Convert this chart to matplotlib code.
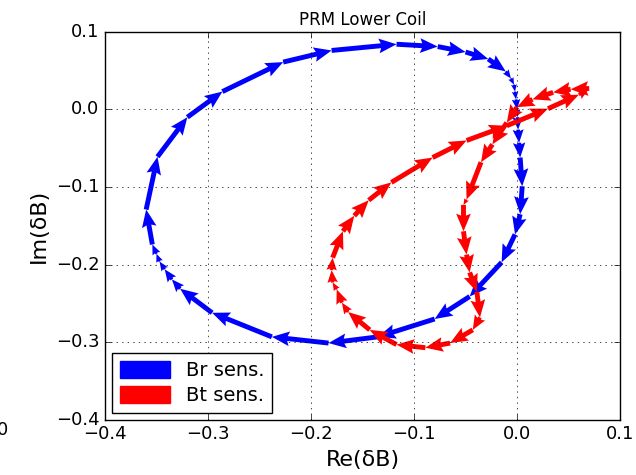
import numpy as np
import matplotlib
matplotlib.use('Agg')
import matplotlib.pyplot as plt
from matplotlib.patches import Patch

blue_re = [0.003, 0.005, 0.003, -0.002, -0.015, -0.046, -0.080, -0.135, -0.183,
           -0.238, -0.296, -0.327, -0.335, -0.342, -0.347, -0.350, -0.354,
           -0.360, -0.349, -0.320, -0.286, -0.227, -0.180, -0.117, -0.077,
           -0.050, -0.028, -0.011, -0.006, -0.003, -0.002, -0.001, 0.000,
           0.0005, 0.001, 0.002, 0.003]
blue_im = [-0.062, -0.099, -0.135, -0.161, -0.197, -0.241, -0.270, -0.293,
           -0.301, -0.293, -0.262, -0.231, -0.219, -0.206, -0.196, -0.186,
           -0.174, -0.129, -0.061, -0.010, 0.023, 0.061, 0.076, 0.084, 0.081,
           0.074, 0.065, 0.049, 0.040, 0.032, 0.023, 0.013, 0.000, -0.010,
           -0.026, -0.043, -0.062]

# Bt sensor response
red_re = [-0.082, -0.049, -0.010, 0.030, 0.060, 0.070, 0.052, 0.035, 0.015,
          0.000, -0.010, -0.024, -0.035, -0.049, -0.052, -0.052, -0.049,
          -0.046, -0.039, -0.036, -0.043, -0.065, -0.089, -0.117, -0.143,
          -0.164, -0.170, -0.175, -0.179, -0.180, -0.179, -0.169, -0.158,
          -0.144, -0.122, -0.082]
red_im = [-0.062, -0.040, -0.021, 0.001, 0.019, 0.027, 0.026, 0.022, 0.013,
          0.003, -0.017, -0.045, -0.068, -0.116, -0.123, -0.157, -0.187,
          -0.210, -0.235, -0.268, -0.284, -0.301, -0.307, -0.303, -0.284,
          -0.261, -0.249, -0.232, -0.223, -0.207, -0.191, -0.157, -0.137,
          -0.117, -0.094, -0.062]

labels = ['Br sens.', 'Bt sens.']


def draw_arrows(ax, re, im, color):
    re = np.array(re)
    im = np.array(im)
    ax.quiver(re[:-1], im[:-1], np.diff(re), np.diff(im),
              angles='xy', scale_units='xy', scale=1, color=color,
              width=0.0095, headwidth=3, headlength=3.6, headaxislength=3.2)


plt.style.use('classic')
fig = plt.figure(figsize=(6.36, 4.75), dpi=100, facecolor='white')
ax = fig.add_axes([0.165, 0.116, 0.81, 0.817])

draw_arrows(ax, blue_re, blue_im, '#0000ff')
draw_arrows(ax, red_re, red_im, '#ff0000')

ax.set_xlim(-0.4, 0.1)
ax.set_ylim(-0.4, 0.1)
ax.set_xticks(np.arange(-0.4, 0.11, 0.1))
ax.set_yticks(np.arange(-0.4, 0.11, 0.1))
ax.tick_params(labelsize=13)
ax.grid(True)
ax.set_title('PRM Lower Coil', fontsize=12)
ax.set_xlabel('Re(δB)', fontsize=16)
ax.set_ylabel('Im(δB)', fontsize=16)

handles = [Patch(color='#0000ff'), Patch(color='#ff0000')]
ax.legend(handles, labels, loc='lower left', fontsize=14,
          handlelength=2.6, handleheight=1.0, labelspacing=0.3,
          borderaxespad=0.35)

fig.text(8 / 636, 0.095, '0', ha='right', va='center', fontsize=13)

fig.savefig('out.png', dpi=100, facecolor='white')
